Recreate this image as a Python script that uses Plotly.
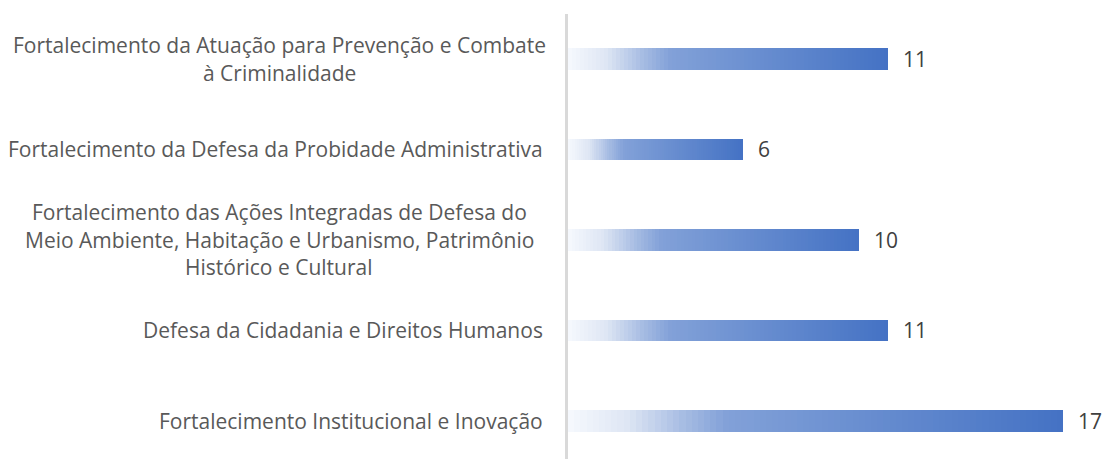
import plotly.graph_objects as go

# Programme areas (bottom to top) and number of actions in each
categories = [
    "Fortalecimento Institucional e Inovação",
    "Defesa da Cidadania e Direitos Humanos",
    "Fortalecimento das Ações Integradas de Defesa do|Meio Ambiente, Habitação e Urbanismo, Patrimônio|Histórico e Cultural",
    "Fortalecimento da Defesa da Probidade Administrativa",
    "Fortalecimento da Atuação para Prevenção e Combate|à Criminalidade",
]
values = [17, 11, 10, 6, 11]

# Horizontal gradient used to fill each bar (position along bar -> RGB)
grad_stops = [
    (0.00, (246, 249, 253)),
    (0.12, (222, 230, 244)),
    (0.23, (168, 189, 227)),
    (0.32, (130, 161, 216)),
    (1.00, (68, 114, 196)),
]


def grad_color(t):
    for (p0, c0), (p1, c1) in zip(grad_stops[:-1], grad_stops[1:]):
        if p0 <= t <= p1:
            f = (t - p0) / (p1 - p0)
            c = [round(a + (b - a) * f) for a, b in zip(c0, c1)]
            return "rgb(%d,%d,%d)" % tuple(c)
    return "rgb(%d,%d,%d)" % grad_stops[-1][1]


N_SEG = 80
ypos = list(range(len(categories)))
fig = go.Figure()
for i in range(N_SEG):
    t = (i + 0.5) / N_SEG
    fig.add_trace(go.Bar(
        y=ypos,
        x=[v / N_SEG * 1.02 if i < N_SEG - 1 else v / N_SEG for v in values],
        base=[v * i / N_SEG for v in values],
        orientation="h",
        width=0.24,
        marker=dict(color=grad_color(t), line=dict(width=0)),
        hoverinfo="skip",
        showlegend=False,
    ))

LABEL_FONT = dict(family="Open Sans, sans-serif", size=21, color="#595959")
LINE_H = 27.5  # px between label lines
annotations = []
for y, cat in zip(ypos, categories):
    lines = cat.split("|")
    n = len(lines)
    for k, line in enumerate(lines):
        dy = (k - (n - 1) / 2) * LINE_H
        if n == 1:
            annotations.append(dict(
                x=0, xref="x", y=y, yref="y", text=line, showarrow=False,
                xanchor="right", yanchor="middle", yshift=-dy, xshift=-23,
                font=LABEL_FONT,
            ))
        else:
            annotations.append(dict(
                x=0, xref="x", y=y, yref="y", text=line, showarrow=False,
                xanchor="center", yanchor="middle", yshift=-dy, xshift=-289,
                font=LABEL_FONT,
            ))

# value labels at bar ends
for y, v in zip(ypos, values):
    annotations.append(dict(
        x=v, xref="x", y=y, yref="y", text=str(v), showarrow=False,
        xanchor="left", yanchor="middle", xshift=13,
        font=dict(family="Open Sans, sans-serif", size=21, color="#404040"),
    ))

fig.update_layout(
    width=1105, height=459,
    margin=dict(l=568, r=13, t=14, b=0),
    paper_bgcolor="white", plot_bgcolor="white",
    barmode="overlay", bargap=0,
    annotations=annotations,
    xaxis=dict(range=[0, 18], visible=False, fixedrange=True),
    yaxis=dict(range=[-0.42, 4.497], showticklabels=False, showgrid=False,
               zeroline=False, showline=True, linecolor="#D9D9D9", linewidth=3,
               ticks=""),
)

fig.write_html("out.html")
